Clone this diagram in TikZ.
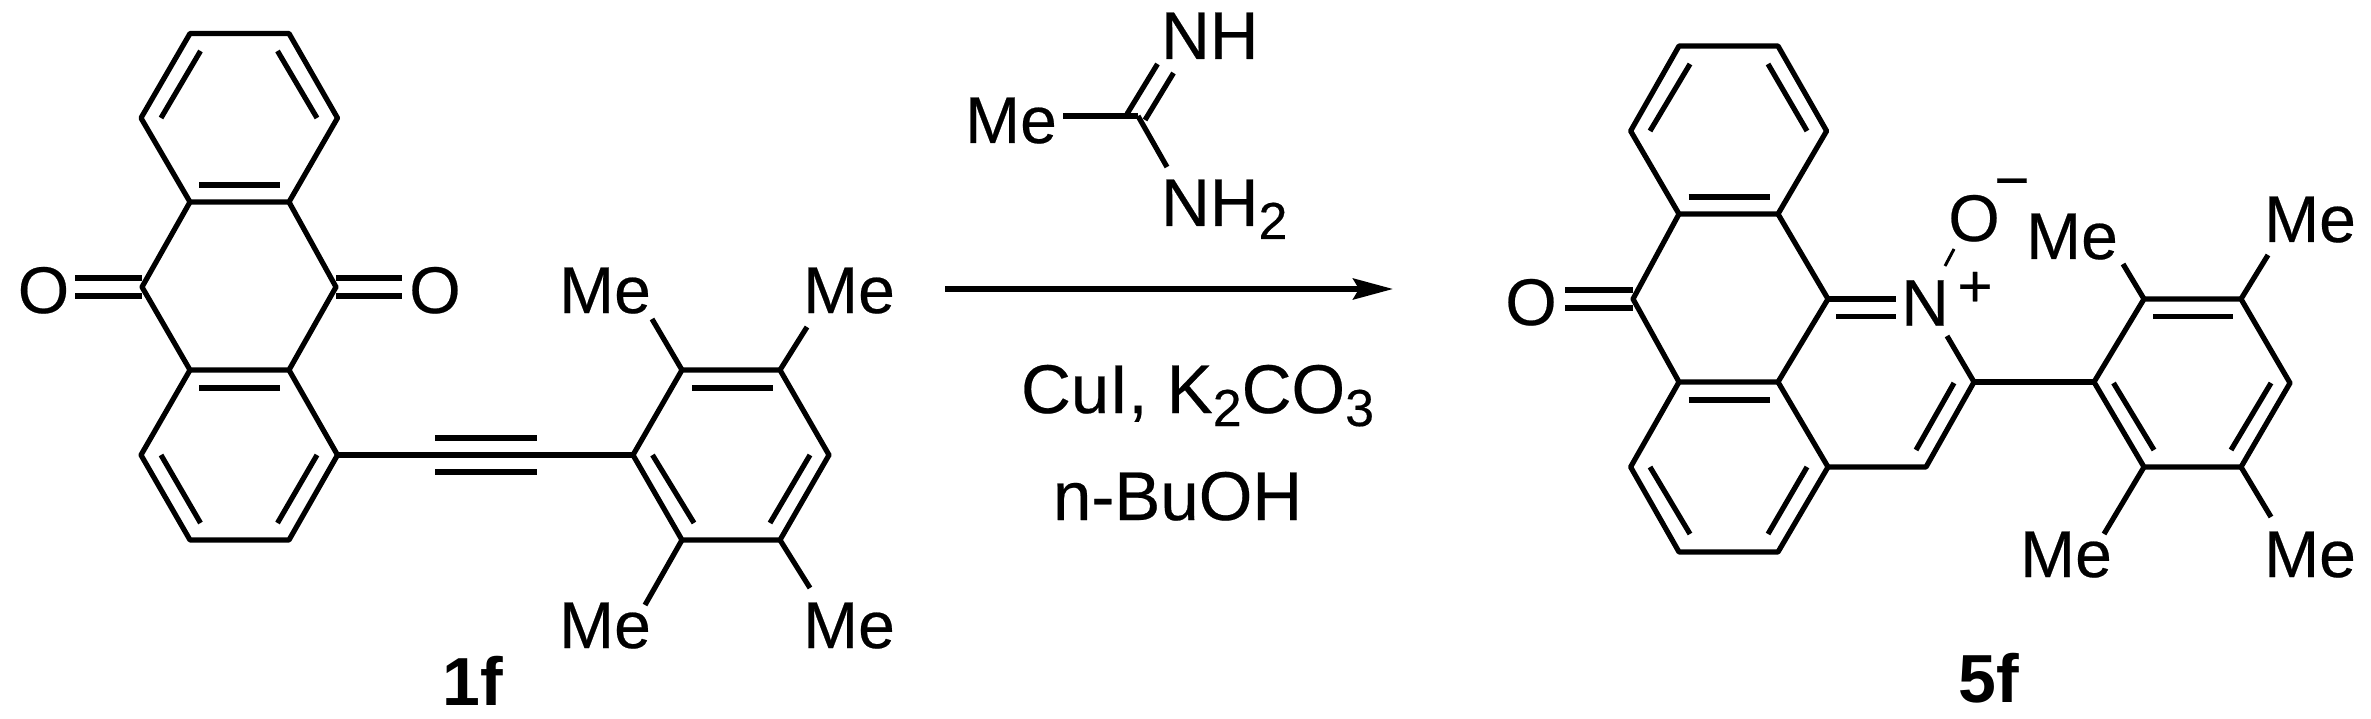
\documentclass[tikz,border=0pt]{standalone}
\usepackage{fontspec}
\setmainfont[FakeBold=0.35,BoldFont={Liberation Sans Bold},BoldFeatures={FakeBold=0}]{Liberation Sans}
\usetikzlibrary{arrows.meta}
\newcommand{\chemsub}[1]{\raisebox{-13pt}{\fontsize{52}{52}\selectfont #1}}
\tikzset{
  bond/.style={draw=black,line width=5.2pt,line join=round,line cap=butt},
  atom/.style={inner sep=0pt,outer sep=0pt,anchor=base,font=\fontsize{66}{70}\selectfont},
  atomw/.style={inner sep=0pt,outer sep=0pt,anchor=base west,font=\fontsize{67.5}{70}\selectfont},
  condn/.style={inner sep=0pt,outer sep=0pt,anchor=base west,font=\fontsize{69}{72}\selectfont},
  charge/.style={inner sep=0pt,outer sep=0pt,anchor=base,font=\fontsize{60}{60}\selectfont},
  cmpd/.style={inner sep=0pt,outer sep=0pt,anchor=base,font=\fontsize{68}{70}\selectfont\bfseries},
  rxn/.style={draw=black,line width=5.2pt,-{Stealth[length=40pt,width=21pt,inset=6pt]}}
}
\begin{document}
\begin{tikzpicture}[x=1pt,y=-1pt]
\fill[white] (0,0) rectangle (2371,719);
\useasboundingbox (0,0) rectangle (2371,719);
% ---- 1f atoms
\coordinate (a1) at (190,33.5); \coordinate (a2) at (289,33.5);
\coordinate (a3) at (337.5,118); \coordinate (a4) at (289,202);
\coordinate (a5) at (190,202); \coordinate (a6) at (141,118);
\coordinate (a7) at (142,287); \coordinate (a8) at (336,287);
\coordinate (a9) at (190,370); \coordinate (a10) at (289,370);
\coordinate (a11) at (337.5,455); \coordinate (a12) at (289,540);
\coordinate (a13) at (190,540); \coordinate (a14) at (141,455);
\coordinate (m1) at (633,455); \coordinate (m2) at (682,370);
\coordinate (m3) at (780,370); \coordinate (m4) at (829,455);
\coordinate (m5) at (780,540); \coordinate (m6) at (682,540);
% inner lines
\coordinate (i1a) at (200.5,51); \coordinate (i1b) at (161,118);
\coordinate (i2a) at (277.5,51); \coordinate (i2b) at (317,118);
\coordinate (i3a) at (199,185); \coordinate (i3b) at (280,185);
\coordinate (i4a) at (199,388); \coordinate (i4b) at (280,388);
\coordinate (i5a) at (161,455); \coordinate (i5b) at (200.5,523);
\coordinate (i6a) at (317,455); \coordinate (i6b) at (277.5,523);
\coordinate (i7a) at (692,388); \coordinate (i7b) at (773,388);
\coordinate (i8a) at (652.5,455); \coordinate (i8b) at (694,523);
\coordinate (i9a) at (810,455); \coordinate (i9b) at (770,523);
\coordinate (t1a) at (435,438); \coordinate (t1b) at (537,438);
\coordinate (t2a) at (435,472); \coordinate (t2b) at (537,472);
\coordinate (o1a) at (75,278); \coordinate (o1b) at (142,278);
\coordinate (o2a) at (75,296); \coordinate (o2b) at (142,296);
\coordinate (o3a) at (336,278); \coordinate (o3b) at (402,278);
\coordinate (o4a) at (336,296); \coordinate (o4b) at (402,296);
\coordinate (s1) at (652,319); \coordinate (s2) at (807,327);
\coordinate (s3) at (645,605); \coordinate (s4) at (810,588);
% 1f bonds
\draw[bond] (a1)--(a2)--(a3)--(a4)--(a5)--(a6)--cycle;
\draw[bond] (a5)--(a7)--(a9)--(a10)--(a8)--(a4);
\draw[bond] (a9)--(a14)--(a13)--(a12)--(a11)--(a10);
\draw[bond] (a11)--(m1);
\draw[bond] (m1)--(m2)--(m3)--(m4)--(m5)--(m6)--cycle;
\foreach \p/\q in {i1a/i1b,i2a/i2b,i3a/i3b,i4a/i4b,i5a/i5b,i6a/i6b,i7a/i7b,i8a/i8b,i9a/i9b,t1a/t1b,t2a/t2b,o1a/o1b,o2a/o2b,o3a/o3b,o4a/o4b,m2/s1,m3/s2,m6/s3,m5/s4}
  \draw[bond] (\p)--(\q);
\node[atom] (oL) at (43.5,313) {O};
\node[atom] (oR) at (435,313) {O};
\node[atom] (me1) at (605,313) {Me};
\node[atom] (me2) at (849,313) {Me};
\node[atom] (me3) at (605,648) {Me};
\node[atom] (me4) at (849,648) {Me};
\node[cmpd] (lab1) at (473,705.5) {1f};
% ---- reagent
\coordinate (rc) at (1138,116); \coordinate (rme) at (1063,116);
\coordinate (rn1a) at (1127,114); \coordinate (rn1b) at (1157.5,64);
\coordinate (rn2a) at (1145,120); \coordinate (rn2b) at (1173.5,73);
\coordinate (rn3) at (1167,167);
\draw[bond] (rme)--(rc); \draw[bond] (rc)--(rn3);
\draw[bond] (rn1a)--(rn1b); \draw[bond] (rn2a)--(rn2b);
\node[atom] (rMe) at (1011,143) {Me};
\node[atomw] (rNH) at (1161,59) {NH};
\node[atomw] (rNH2) at (1161,226) {NH\chemsub{2}};
\coordinate (arrS) at (945,289); \coordinate (arrE) at (1393,289);
\draw[rxn] (arrS)--(arrE);
\node[condn] (cond1) at (1021,413) {CuI, K\chemsub{2}CO\chemsub{3}};
\node[condn] (cond2) at (1053,520) {n-BuOH};
% ---- 5f atoms
\coordinate (b1) at (1679,46); \coordinate (b2) at (1778,46);
\coordinate (b3) at (1826.6,131); \coordinate (b4) at (1778,214);
\coordinate (b5) at (1679,214); \coordinate (b6) at (1630.6,131);
\coordinate (b7) at (1633,299); \coordinate (b8) at (1828,299);
\coordinate (b9) at (1679,382); \coordinate (b10) at (1778,382);
\coordinate (b11) at (1828,467); \coordinate (b12) at (1778,552);
\coordinate (b13) at (1679,552); \coordinate (b14) at (1630.6,467);
\coordinate (b15) at (1926,467); \coordinate (b16) at (1974,382);
\coordinate (n1) at (2094,382); \coordinate (n2) at (2144,299);
\coordinate (n3) at (2241,299); \coordinate (n4) at (2290,383);
\coordinate (n5) at (2241,467); \coordinate (n6) at (2144,467);
\coordinate (j1a) at (1690,64); \coordinate (j1b) at (1650,131);
\coordinate (j2a) at (1768,64); \coordinate (j2b) at (1807,131);
\coordinate (j3a) at (1688.5,197); \coordinate (j3b) at (1770,197);
\coordinate (j4a) at (1688.5,400); \coordinate (j4b) at (1770,400);
\coordinate (j5a) at (1650,467); \coordinate (j5b) at (1690,534);
\coordinate (j6a) at (1807,467); \coordinate (j6b) at (1768,534);
\coordinate (j7a) at (1954,383); \coordinate (j7b) at (1916,450);
\coordinate (j8a) at (2153,316.5); \coordinate (j8b) at (2233,316.5);
\coordinate (j9a) at (2113.5,383); \coordinate (j9b) at (2154,450);
\coordinate (j10a) at (2271,383); \coordinate (j10b) at (2231,450);
\coordinate (q1a) at (1565,290); \coordinate (q1b) at (1633,290);
\coordinate (q2a) at (1565,308); \coordinate (q2b) at (1633,308);
\coordinate (q3b) at (1896,299);
\coordinate (q4a) at (1836,316.5); \coordinate (q4b) at (1896,316.5);
\coordinate (q5) at (1947,336);
\coordinate (q6a) at (1945,266); \coordinate (q6b) at (1954,249);
\coordinate (u1) at (2123,264); \coordinate (u2) at (2268,255);
\coordinate (u3) at (2104,534); \coordinate (u4) at (2271,517);
% 5f bonds
\draw[bond] (b1)--(b2)--(b3)--(b4)--(b5)--(b6)--cycle;
\draw[bond] (b5)--(b7)--(b9)--(b10)--(b8)--(b4);
\draw[bond] (b9)--(b14)--(b13)--(b12)--(b11)--(b10);
\draw[bond] (b11)--(b15)--(b16)--(q5);
\draw[bond] (b16)--(n1);
\draw[bond] (n1)--(n2)--(n3)--(n4)--(n5)--(n6)--cycle;
\foreach \p/\q in {j1a/j1b,j2a/j2b,j3a/j3b,j4a/j4b,j5a/j5b,j6a/j6b,j7a/j7b,j8a/j8b,j9a/j9b,j10a/j10b,q1a/q1b,q2a/q2b,b8/q3b,q4a/q4b,n2/u1,n3/u2,n6/u3,n5/u4}
  \draw[bond] (\p)--(\q);
\draw[bond,line width=3pt] (q6a)--(q6b);
\node[atom] (oK) at (1531,325) {O};
\node[atom] (nP) at (1925,325.7) {N};
\node[atom] (oM) at (1974,241) {O};
\node[charge] (plus) at (1975,306.6) {+};
\node[charge] (minus) at (2012,200.6) {−};
\node[atom] (me5) at (2072,259) {Me};
\node[atom] (me6) at (2310,242) {Me};
\node[atom] (me7) at (2066,577) {Me};
\node[atom] (me8) at (2310,577) {Me};
\node[cmpd] (lab2) at (1989,702) {5f};
\end{tikzpicture}
\end{document}
